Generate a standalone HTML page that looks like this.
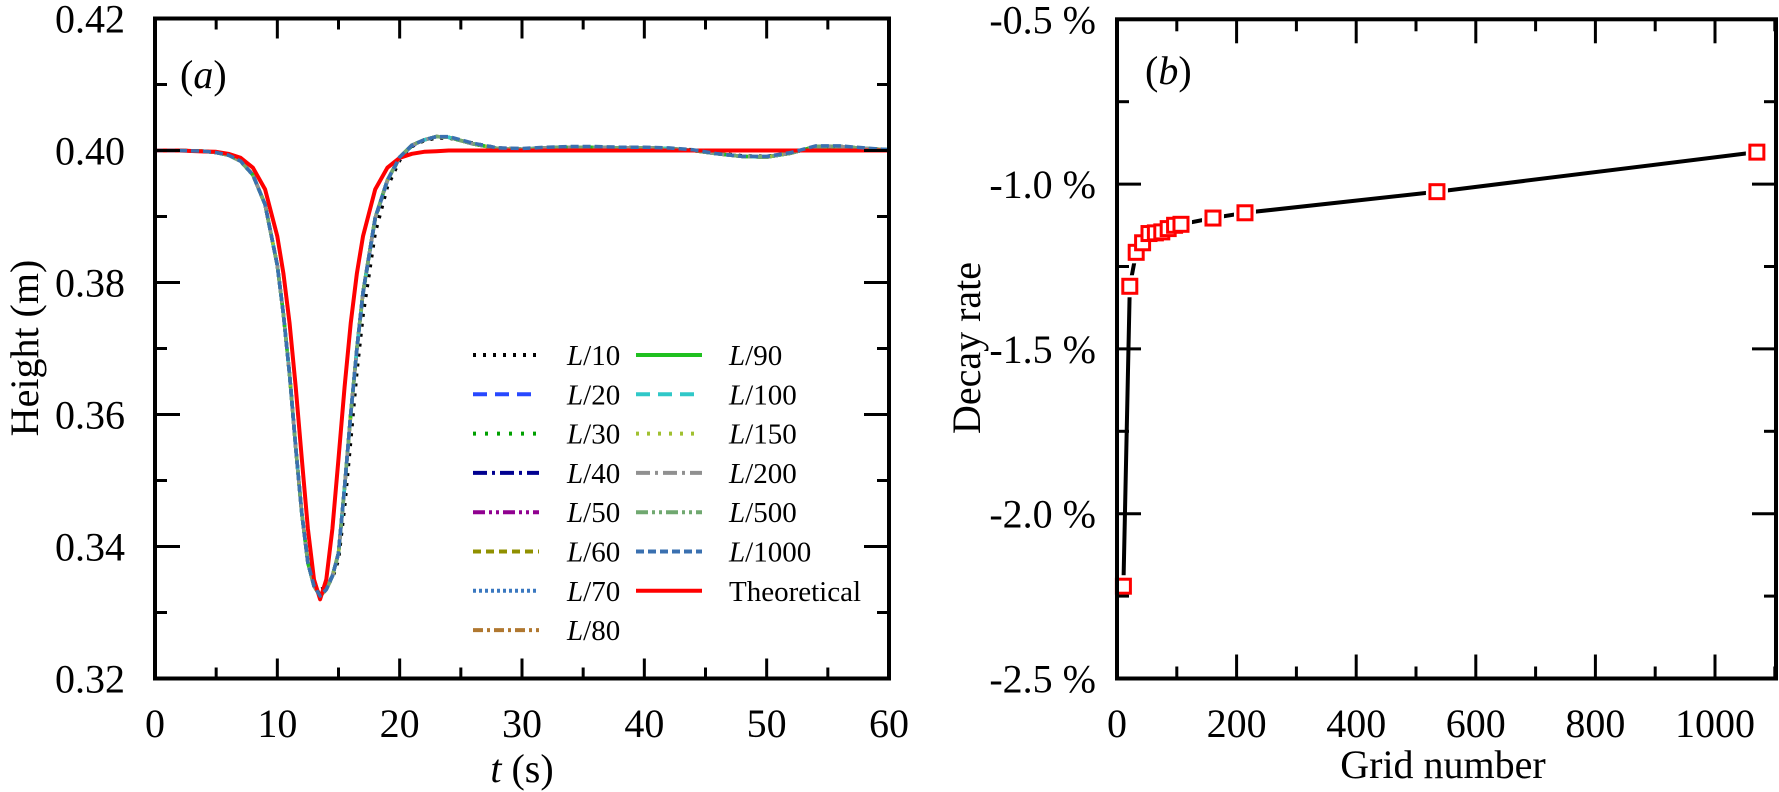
<!DOCTYPE html>
<html><head><meta charset="utf-8"><style>
html,body{margin:0;padding:0;background:#fff;}
svg{display:block;font-family:"Liberation Serif",serif;}
svg text{font-family:"Liberation Serif",serif;}
</style></head><body>
<svg id="fig" width="1779" height="792" viewBox="0 0 1779 792" xmlns="http://www.w3.org/2000/svg" font-family="'Liberation Serif', serif">
<g id="pa"></g>
<g id="pb"></g>
</svg>
<script>
// ---------- Panel (a) data ----------
const tVals = [0,2,4,5,6,7,8,9,10,10.5,11,11.5,12,12.5,13,13.5,14,14.5,15,15.5,16,16.5,17,18,19,20,21,22,23,24,25,26,28,30,32,34,36,38,40,42,44,46,48,50,52,54,56,58,60];
const hTheory = [.4,.4,.39985,.3998,.3995,.3989,.3974,.3941,.387,.3814,.3738,.3642,.3533,.3427,.335,.332,.335,.3427,.3533,.3642,.3738,.3814,.387,.3941,.3974,.3989,.3995,.3998,.3999,.4,.4,.4,.4,.4,.4,.4,.4,.4,.4,.4,.4,.4,.4,.4,.4,.4,.4,.4,.4];
const hL10 = [.4,.4,.3999,.3997,.3993,.3984,.3963,.3918,.3826,.3752,.366,.355,.345,.3378,.3345,.3335,.3338,.3352,.338,.346,.356,.3665,.375,.3875,.3945,.3985,.4006,.4015,.4019,.4019,.4015,.4011,.4004,.4002,.4004,.4005,.4005,.4005,.4004,.4003,.4001,.3996,.3992,.3991,.3996,.4006,.4006,.4003,.4001];
const hL20 = [.4,.4,.3999,.3997,.3993,.3984,.3963,.3918,.3826,.3752,.366,.355,.345,.3376,.3341,.3327,.3336,.3356,.339,.349,.36,.3698,.3782,.3896,.3954,.3989,.4007,.4016,.4021,.402,.4015,.401,.4003,.4002,.4004,.4005,.4005,.4004,.4004,.4003,.4,.3995,.3991,.399,.3996,.4006,.4006,.4003,.4001];
const hL30 = hL20.slice();
const hL40 = [.4,.4,.3999,.3997,.3993,.3984,.3963,.3918,.3826,.3752,.366,.355,.345,.3375,.334,.3325,.3335,.3355,.339,.349,.36,.37,.3785,.3898,.3955,.399,.4008,.4016,.4021,.402,.4015,.401,.4003,.4002,.4004,.4005,.4005,.4004,.4004,.4003,.4,.3995,.3991,.399,.3996,.4006,.4006,.4003,.4001];
const hL50 = hL40.slice();
const hL60 = hL40.slice();
const hL70 = hL40.slice();
const hL80 = hL40.slice();
const hL90 = hL40.slice();
const hL100 = hL40.slice();
const hL150 = hL40.slice();
const hL200 = hL40.slice();
const hL500 = hL40.slice();
const hL1000 = [.4,.4,.3999,.3997,.3993,.3984,.3963,.3918,.3826,.3752,.366,.355,.345,.3375,.334,.3325,.3335,.3355,.339,.349,.36,.37,.3785,.3898,.3955,.399,.4008,.4016,.4021,.4021,.4016,.4011,.4004,.4003,.4005,.4006,.4006,.4005,.4005,.4004,.4001,.3995,.3991,.3991,.3997,.4007,.4007,.4004,.4001];
const seriesNames = ["L/10","L/20","L/30","L/40","L/50","L/60","L/70","L/80","L/90","L/100","L/150","L/200","L/500","L/1000","Theoretical"];
const seriesVals = [hL10,hL20,hL30,hL40,hL50,hL60,hL70,hL80,hL90,hL100,hL150,hL200,hL500,hL1000,hTheory];
const aXTicks = [0,10,20,30,40,50,60];
const aYTicks = [0.32,0.34,0.36,0.38,0.40,0.42];

// ---------- Panel (b) data ----------
const gridNum = [10.7,21.4,32.1,42.8,53.5,64.2,74.9,85.6,96.3,107,160.5,214,535,1070];
const decayRate = [-2.22,-1.31,-1.207,-1.178,-1.15,-1.148,-1.145,-1.135,-1.125,-1.122,-1.103,-1.087,-1.023,-0.903];
const bXTicks = [0,200,400,600,800,1000];
const bYTicks = [-2.5,-2.0,-1.5,-1.0,-0.5];
const bYLabels = ["-2.5 %","-2.0 %","-1.5 %","-1.0 %","-0.5 %"];

const NS="http://www.w3.org/2000/svg";
function el(tag, attrs, parent){const e=document.createElementNS(NS,tag);for(const k in attrs)e.setAttribute(k,attrs[k]);parent.appendChild(e);return e;}

// ---------- Panel (a) ----------
const pa=document.getElementById('pa');
const aL=155,aR=889,aT=18.5,aB=678.5;
const ax=t=>aL+(t-0)/(60-0)*(aR-aL);
const ay=h=>aB-(h-0.32)/(0.42-0.32)*(aB-aT);
const styles=[
 {c:"#000000",d:"3 7",w:3.5},{c:"#2848ff",d:"14 8",w:3.5},{c:"#00a000",d:"3 9",w:3.5},{c:"#000090",d:"14 5 3 5",w:3.5},
 {c:"#900090",d:"12 4 3 4 3 4",w:3.5},{c:"#909000",d:"8 5",w:3.5},{c:"#3a78c0",d:"3 3",w:3.5},{c:"#b07830",d:"10 4 3 4",w:3.5},
 {c:"#20c020",d:"",w:3.5},{c:"#30c8c8",d:"14 8",w:3.5},{c:"#a0c030",d:"3 8",w:3.5},{c:"#909090",d:"14 5 3 5",w:3.5},
 {c:"#70a870",d:"12 4 3 4 3 4",w:3.5},{c:"#3a70b0",d:"8 4",w:3.5},{c:"#ff0000",d:"",w:4}];
const slugs=["l10","l20","l30","l40","l50","l60","l70","l80","l90","l100","l150","l200","l500","l1000","theoretical"];
const order=[0,1,2,3,4,5,6,7,8,9,10,11,12,14,13];
order.forEach(i=>{
  const vals=seriesVals[i];
  const pts=tVals.map((t,j)=>ax(t).toFixed(1)+","+ay(vals[j]).toFixed(1)).join(" ");
  const p=el('polyline',{points:pts,fill:"none",stroke:styles[i].c,"stroke-width":styles[i].w,"stroke-dasharray":styles[i].d,"stroke-linejoin":"round"},pa);
  
  
});
const fa=el('rect',{x:aL,y:aT,width:aR-aL,height:aB-aT,fill:"none",stroke:"#000","stroke-width":4},pa);


for(let t=0;t<=60;t+=5){
  const L=(t%10===0)?20:11;
  el('line',{x1:ax(t),x2:ax(t),y1:aB,y2:aB-L,stroke:"#000","stroke-width":3},pa);
  el('line',{x1:ax(t),x2:ax(t),y1:aT,y2:aT+L,stroke:"#000","stroke-width":3},pa);
}
for(let k=0;k<=10;k++){
  const h=0.32+k*0.01;const L=(k%2===0)?25:12;
  el('line',{x1:aL,x2:aL+L,y1:ay(h),y2:ay(h),stroke:"#000","stroke-width":3},pa);
  el('line',{x1:aR,x2:aR-L,y1:ay(h),y2:ay(h),stroke:"#000","stroke-width":3},pa);
}
aXTicks.forEach(t=>{
  const tx=el('text',{x:ax(t),y:737,"font-size":40,"text-anchor":"middle"},pa);tx.textContent=t;
  
  
});
aYTicks.forEach(h=>{
  const tx=el('text',{x:125,y:ay(h)+14,"font-size":40,"text-anchor":"end"},pa);tx.textContent=h.toFixed(2);
  
  
});
</script>
<script>
(function(){
const pa=document.getElementById('pa');
const xt=el('text',{x:522,y:782,"font-size":40,"text-anchor":"middle"},pa);
xt.innerHTML='<tspan font-style="italic">t</tspan> (s)';


const yt=el('text',{x:0,y:0,"font-size":40,"text-anchor":"middle",transform:"translate(38,348) rotate(-90)"},pa);
yt.textContent='Height (m)';


const pl=el('text',{x:180,y:88,"font-size":40},pa);
pl.innerHTML='(<tspan font-style="italic">a</tspan>)';


const lg=el('g',{},pa);


for(let i=0;i<15;i++){
  const col=i<8?0:1,row=i<8?i:i-8;
  const y=355+row*39.3;
  const x1=col?636:473,x2=col?702:539,tx=col?729:567;
  const g=el('g',{},lg);
  
  
  el('line',{x1:x1,x2:x2,y1:y,y2:y,stroke:styles[i].c,"stroke-width":4,"stroke-dasharray":styles[i].d},g);
  const t=el('text',{x:tx,y:y+10,"font-size":29},g);
  if(i===14)t.textContent='Theoretical';
  else t.innerHTML='<tspan font-style="italic">L</tspan>/'+seriesNames[i].slice(2);
}
const pb=document.getElementById('pb');
const bL=1117,bR=1776,bT=19.3,bB=678.5;
const bx=v=>bL+(v-0)/200*119.6;
const by=v=>bB-(v-(-2.5))/2.0*(bB-bT);
const pts=gridNum.map((g,j)=>bx(g).toFixed(1)+","+by(decayRate[j]).toFixed(1)).join(" ");
const ln=el('polyline',{points:pts,fill:"none",stroke:"#000","stroke-width":4,"stroke-linejoin":"round"},pb);


gridNum.forEach((g,j)=>{
  el('rect',{x:bx(g)-11,y:by(decayRate[j])-11,width:22,height:22,fill:"#fff"},pb);
});
gridNum.forEach((g,j)=>{
  const m=el('rect',{x:bx(g)-7,y:by(decayRate[j])-7,width:14,height:14,fill:"#fff",stroke:"#ff0000","stroke-width":3},pb);
  
  
});
const fb=el('rect',{x:bL,y:bT,width:bR-bL,height:bB-bT,fill:"none",stroke:"#000","stroke-width":4},pb);


for(let v=0;v<=1100;v+=100){
  const L=(v%200===0)?24:12;
  el('line',{x1:bx(v),x2:bx(v),y1:bB,y2:bB-L,stroke:"#000","stroke-width":3},pb);
  el('line',{x1:bx(v),x2:bx(v),y1:bT,y2:bT+L,stroke:"#000","stroke-width":3},pb);
}
for(let k=0;k<=8;k++){
  const v=-2.5+k*0.25;const L=(k%2===0)?24:12;
  el('line',{x1:bL,x2:bL+L,y1:by(v),y2:by(v),stroke:"#000","stroke-width":3},pb);
  el('line',{x1:bR,x2:bR-L,y1:by(v),y2:by(v),stroke:"#000","stroke-width":3},pb);
}
bXTicks.forEach(v=>{
  const tx=el('text',{x:bx(v),y:737,"font-size":40,"text-anchor":"middle"},pb);tx.textContent=v;
  
  
});
bYTicks.forEach((v,i)=>{
  const tx=el('text',{x:1096,y:by(v)+14,"font-size":40,"text-anchor":"end"},pb);tx.textContent=bYLabels[i];
  
  
});
const xb=el('text',{x:1443,y:778,"font-size":40,"text-anchor":"middle"},pb);xb.textContent='Grid number';


const yb=el('text',{x:0,y:0,"font-size":40,"text-anchor":"middle",transform:"translate(980,348) rotate(-90)"},pb);yb.textContent='Decay rate';


const plb=el('text',{x:1145,y:84,"font-size":40},pb);
plb.innerHTML='(<tspan font-style="italic">b</tspan>)';


})();
</script>
</body></html>
